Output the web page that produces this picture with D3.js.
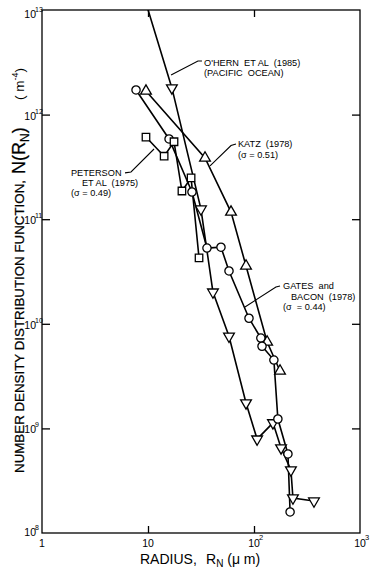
<!DOCTYPE html>
<html>
<head>
<meta charset="utf-8">
<script src="https://cdn.jsdelivr.net/npm/d3@7"></script>
<style>
    body { margin: 0; background: #fff; }
    svg { display: block; font-family: "Liberation Sans", Arial, Helvetica, sans-serif; }
</style>
</head>
<body>
<svg id="chart" width="374" height="580"></svg>
<script>
// radius R_N in micrometres, number density N(R_N) in m^-4
const ohernR = [7.7, 16.8, 31.6, 41.0, 58.1, 84.1, 107, 151, 180, 223, 233, 368]
const ohernN = [2.4e13, 1.80e12, 1.25e11, 2.01e10, 7.6e9, 1.75e9, 7.9e8, 1.13e9, 6.5e8, 4.0e8, 2.16e8, 2.02e8]

const katzR = [9.57, 34.5, 60.7, 84.1, 133, 176]
const katzN = [1.68e12, 3.85e11, 1.17e11, 3.57e10, 6.7e9, 3.54e9]

const gatesR = [7.71, 15.8, 26.0, 36.0, 48.8, 58.1, 89.7, 116, 119, 154, 168, 209, 219]
const gatesN = [1.72e12, 5.85e11, 1.82e11, 5.3e10, 5.4e10, 3.2e10, 1.13e10, 7.3e9, 6.1e9, 4.5e9, 1.23e9, 5.7e8, 1.59e8]

const petersonR = [9.57, 14.2, 17.6, 20.9, 25.5, 30.3]
const petersonN = [6.1e11, 4.0e11, 5.5e11, 1.86e11, 2.48e11, 4.26e10]

const xTicks = [1, 10, 100, 1000]
const xTickLabels = [["1", ""], ["10", ""], ["10", "2"], ["10", "3"]]
const yTicks = [1e8, 1e9, 1e10, 1e11, 1e12, 1e13]
const yTickExp = ["8", "9", "10", "11", "12", "13"]

// annotation text anchors and leader lines, in data units
const notes = [
    { lines: ["O'HERN  ET AL  (1985)", "(PACIFIC  OCEAN)"], indent: [0, 0], gap: 10,
      at: [33.8, 2.94e12], leader: [[32.3, 3.25e12], [29.6, 3.25e12], [16.5, 2.39e12]] },
    { lines: ["KATZ  (1978)", "(\u03c3 = 0.51)"], indent: [0, 0], gap: 10.5,
      at: [70.6, 4.85e11], leader: [[67.6, 5.24e11], [60.7, 5.06e11], [38.5, 3.23e11]] },
    { lines: ["PETERSON", "ET AL  (1975)", "(\u03c3 = 0.49)"], indent: [0, 11, 0], gap: 10,
      at: [1.877, 2.56e11], leader: [[6.07, 2.77e11], [6.91, 2.83e11], [11.4, 4.69e11]] },
    { lines: ["GATES  and", "BACON  (1978)", "(\u03c3  = 0.44)"], indent: [0, 8, 0], gap: 10.5,
      at: [187.7, 2.13e10], leader: [[176, 2.30e10], [161, 2.25e10], [82.2, 1.45e10]] },
]

const series = [
    { R: ohernR, N: ohernN, symbol: d3.symbolTriangle, size: 50, rotate: 180 },
    { R: katzR, N: katzN, symbol: d3.symbolTriangle, size: 50, rotate: 0 },
    { R: gatesR, N: gatesN, symbol: d3.symbolCircle, size: 54, rotate: 0 },
    { R: petersonR, N: petersonN, symbol: d3.symbolSquare, size: 56, rotate: 0 },
]

const plotLeft = 42, plotRight = 360, plotTop = 10, plotBottom = 533

const svg = d3.select("#chart")
const x = d3.scaleLog().domain([1, 1000]).range([plotLeft, plotRight])
const y = d3.scaleLog().domain([1e8, 1e13]).range([plotBottom, plotTop])

svg.append("defs").append("clipPath")
    .attr("id", "plot")
    .append("rect")
    .attr("x", plotLeft).attr("y", plotTop)
    .attr("width", plotRight - plotLeft).attr("height", plotBottom - plotTop)

// inward ticks on all four sides
const tickStyle = g => {
    g.select(".domain").remove()
    g.selectAll(".tick line").attr("stroke", "#000").attr("stroke-width", 1.3)
}
svg.append("g").attr("transform", `translate(0,${plotBottom})`)
    .call(d3.axisBottom(x).tickValues([10, 100]).tickSize(-7).tickFormat(""))
    .call(tickStyle)
svg.append("g").attr("transform", `translate(0,${plotTop})`)
    .call(d3.axisTop(x).tickValues([10, 100]).tickSize(-7).tickFormat(""))
    .call(tickStyle)
svg.append("g").attr("transform", `translate(${plotLeft},0)`)
    .call(d3.axisLeft(y).tickValues([1e9, 1e10, 1e11, 1e12]).tickSize(-8).tickFormat(""))
    .call(tickStyle)
svg.append("g").attr("transform", `translate(${plotRight},0)`)
    .call(d3.axisRight(y).tickValues([1e9, 1e10, 1e11, 1e12]).tickSize(-8).tickFormat(""))
    .call(tickStyle)

svg.append("rect")
    .attr("x", plotLeft).attr("y", plotTop)
    .attr("width", plotRight - plotLeft).attr("height", plotBottom - plotTop)
    .attr("fill", "none").attr("stroke", "#000").attr("stroke-width", 1.3)

// tick labels
xTicks.forEach((v, i) => {
    svg.append("text")
        .attr("x", x(v)).attr("y", 547)
        .attr("text-anchor", "middle")
        .attr("font-size", 10.5)
        .text(xTickLabels[i][0])
    if (xTickLabels[i][1]) {
        svg.append("text")
            .attr("x", x(v) + 5).attr("y", 540)
            .attr("font-size", 7.5)
            .text(xTickLabels[i][1])
    }
})
yTicks.forEach((v, i) => {
    const shift = v === 1e13 ? 8 : (v === 1e8 ? 3 : 5)
    svg.append("text")
        .attr("x", 36).attr("y", y(v) + shift)
        .attr("text-anchor", "end")
        .attr("font-size", 10.5)
        .text("10")
    svg.append("text")
        .attr("x", 35).attr("y", y(v) + shift - 6)
        .attr("font-size", 7)
        .text(yTickExp[i])
})

// axis titles
const xt = svg.append("text").attr("x", 140).attr("y", 564).attr("font-size", 14)
xt.append("tspan").text("RADIUS,")
xt.append("tspan").attr("x", 206).text("R")
xt.append("tspan").attr("font-size", 10).attr("dy", 3).text("N")
xt.append("tspan").attr("dy", -3).text(" (\u03bc m)")

svg.append("text")
    .attr("transform", "translate(24,473) rotate(-90)")
    .attr("font-size", 13.5)
    .attr("stroke", "#000").attr("stroke-width", 0.25)
    .attr("textLength", 293).attr("lengthAdjust", "spacingAndGlyphs")
    .text("NUMBER DENSITY DISTRIBUTION FUNCTION,")
const nr = svg.append("text")
    .attr("transform", "translate(25,174) rotate(-90)")
    .attr("font-size", 18)
    .attr("stroke", "#000").attr("stroke-width", 0.25)
nr.append("tspan").text("N(R")
nr.append("tspan").attr("font-size", 12).attr("dy", 4).text("N")
nr.append("tspan").attr("dy", -4).text(")")
const mu = svg.append("text")
    .attr("transform", "translate(24,100) rotate(-90)")
    .attr("font-size", 13.5)
mu.append("tspan").text("( m")
mu.append("tspan").attr("font-size", 9).attr("dy", -6).text("-4")
mu.append("tspan").attr("dy", 6).text(")")

// data lines and markers
const line = d3.line().x(d => x(d[0])).y(d => y(d[1]))
const plot = svg.append("g").attr("clip-path", "url(#plot)")

series.forEach(s => {
    const pts = s.R.map((r, i) => [r, s.N[i]])
    plot.append("path")
        .datum(pts)
        .attr("d", line)
        .attr("fill", "none")
        .attr("stroke", "#000")
        .attr("stroke-width", 1.6)
})
series.forEach(s => {
    const pts = s.R.map((r, i) => [r, s.N[i]])
    plot.selectAll(null)
        .data(pts)
        .enter()
        .append("path")
        .attr("d", d3.symbol().type(s.symbol).size(s.size))
        .attr("transform", d => `translate(${x(d[0])},${y(d[1])}) rotate(${s.rotate})`)
        .attr("fill", "#fff")
        .attr("stroke", "#000")
        .attr("stroke-width", 1.3)
})

// annotations
notes.forEach(n => {
    svg.append("path")
        .datum(n.leader)
        .attr("d", line)
        .attr("fill", "none")
        .attr("stroke", "#000")
        .attr("stroke-width", 1.1)
    const t = svg.append("text")
        .attr("font-size", 9.2)
    n.lines.forEach((txt, i) => {
        t.append("tspan")
            .attr("x", x(n.at[0]) + n.indent[i])
            .attr("y", y(n.at[1]) + i * n.gap)
            .style("white-space", "pre")
            .text(txt)
    })
})
</script>
</body>
</html>
